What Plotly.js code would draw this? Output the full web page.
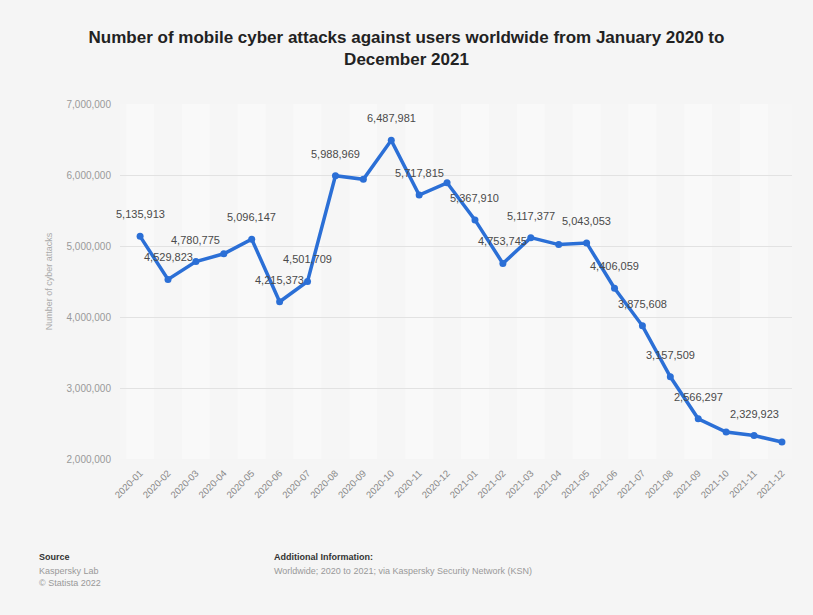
<!DOCTYPE html>
<html>
<head>
<meta charset="utf-8">
<script src="https://cdn.plot.ly/plotly-3.0.1.min.js"></script>
<style>
  html, body { margin: 0; padding: 0; background: #f5f5f5; }
  #chart { width: 813px; height: 615px; }
</style>
</head>
<body>
<div id="chart"></div>
<script>
// ---- Data ----
const months = [
  "2020-01","2020-02","2020-03","2020-04","2020-05","2020-06",
  "2020-07","2020-08","2020-09","2020-10","2020-11","2020-12",
  "2021-01","2021-02","2021-03","2021-04","2021-05","2021-06",
  "2021-07","2021-08","2021-09","2021-10","2021-11","2021-12"
];
const attacks = [
  5135913, 4529823, 4780775, 4890000, 5096147, 4215373,
  4501709, 5988969, 5940000, 6487981, 5717815, 5890000,
  5367910, 4753745, 5117377, 5020000, 5043053, 4406059,
  3875608, 3157509, 2566297, 2380000, 2329923, 2240000
];
// which points carry a visible value label in the original
const showLabel = [
  true, true, true, false, true, true,
  true, true, false, true, true, false,
  true, true, true, false, true, true,
  true, true, true, false, true, false
];
const yTicks = [2000000, 3000000, 4000000, 5000000, 6000000, 7000000];

const titleText = "Number of mobile cyber attacks against users worldwide from January 2020 to<br>December 2021";
const yTitle = "Number of cyber attacks";
const sourceHead = "Source";
const sourceLines = ["Kaspersky Lab", "© Statista 2022"];
const infoHead = "Additional Information:";
const infoLine = "Worldwide; 2020 to 2021; via Kaspersky Security Network (KSN)";

// ---- Build ----
const FONT = "Liberation Sans, Arial, sans-serif";
const fmt = v => v.toLocaleString("en-US");

const trace = {
  x: months,
  y: attacks,
  type: "scatter",
  mode: "lines+markers",
  line: { color: "#2b6fd6", width: 3.5 },
  marker: { color: "#2b6fd6", size: 7 },
  cliponaxis: false,
  hoverinfo: "x+y"
};

const annotations = [];
months.forEach((m, i) => {
  if (!showLabel[i]) return;
  annotations.push({
    x: m, y: attacks[i], xref: "x", yref: "y",
    text: fmt(attacks[i]),
    showarrow: false, yshift: 22,
    font: { family: FONT, size: 11, color: "#4a4a4a" }
  });
});

const plotTop = 104, plotBottom = 459, plotH = plotBottom - plotTop;
const plotLeft = 120, plotW = 672;
const py = p => (plotBottom - p) / plotH;
const px = p => (p - plotLeft) / plotW;

annotations.push({
  xref: "paper", yref: "paper", x: px(37), y: py(557),
  xanchor: "left", yanchor: "middle", showarrow: false,
  text: "<b>" + sourceHead + "</b>",
  font: { family: FONT, size: 9, color: "#333" }
});
sourceLines.forEach((t, k) => {
  annotations.push({
    xref: "paper", yref: "paper", x: px(37), y: py(571 + k * 12),
    xanchor: "left", yanchor: "middle", showarrow: false, text: t,
    font: { family: FONT, size: 9, color: "#999" }
  });
});
annotations.push({
  xref: "paper", yref: "paper", x: px(272), y: py(557),
  xanchor: "left", yanchor: "middle", showarrow: false,
  text: "<b>" + infoHead + "</b>",
  font: { family: FONT, size: 9, color: "#333" }
});
annotations.push({
  xref: "paper", yref: "paper", x: px(272), y: py(571),
  xanchor: "left", yanchor: "middle", showarrow: false, text: infoLine,
  font: { family: FONT, size: 9, color: "#999" }
});

// faint alternating column bands behind the plot
const shapes = [];
months.forEach((m, i) => {
  if (i % 2 === 1) return;
  shapes.push({
    type: "rect", layer: "below", xref: "x", yref: "paper",
    x0: i - 0.5, x1: i + 0.5, y0: 0, y1: 1,
    fillcolor: "#f9f9f9", line: { width: 0 }
  });
});

const layout = {
  width: 813, height: 615,
  paper_bgcolor: "#f5f5f5",
  plot_bgcolor: "#f6f6f6",
  margin: { l: plotLeft, r: 813 - plotLeft - plotW, t: plotTop, b: 615 - plotBottom },
  showlegend: false,
  title: {
    text: "<b>" + titleText + "</b>",
    x: 0.5, xanchor: "center", xref: "container",
    y: 1 - 43 / 615, yanchor: "middle", yref: "container",
    font: { family: FONT, size: 17, color: "#222" }
  },
  xaxis: {
    type: "category",
    range: [-0.72, 23.36],
    tickangle: -45,
    showgrid: false,
    zeroline: false,
    showline: false,
    ticks: "",
    ticklabelstandoff: 6,
    tickfont: { family: FONT, size: 9.5, color: "#888" }
  },
  yaxis: {
    range: [2000000, 7000000],
    tickvals: yTicks,
    ticktext: yTicks.map(fmt),
    showgrid: true,
    gridcolor: "#e2e2e2",
    gridwidth: 1,
    zeroline: false,
    showline: false,
    ticks: "",
    ticklabelstandoff: 8,
    tickfont: { family: FONT, size: 10, color: "#999" },
    title: {
      text: yTitle,
      standoff: 12,
      font: { family: FONT, size: 9, color: "#aaa" }
    }
  },
  shapes: shapes,
  annotations: annotations
};

Plotly.newPlot("chart", [trace], layout, { displayModeBar: false, staticPlot: true });
</script>
</body>
</html>
